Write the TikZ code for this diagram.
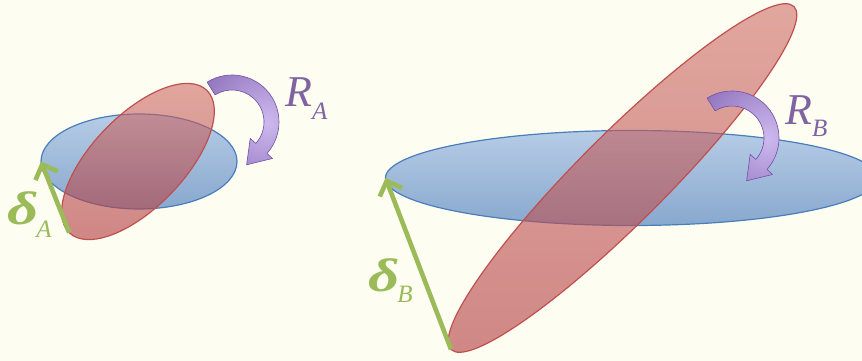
\documentclass[tikz,border=0pt]{standalone}
\usepackage{fontspec}
\usepackage{graphicx}
\newfontfamily\dfont{Liberation Serif}
\usetikzlibrary{arrows.meta,shapes.geometric,calc}
\definecolor{bgc}{RGB}{253,253,242}
\definecolor{blueline}{RGB}{74,126,187}
\definecolor{bluetop}{RGB}{182,204,230}
\definecolor{bluebot}{RGB}{136,168,206}
\definecolor{redline}{RGB}{192,80,77}
\definecolor{redtop}{RGB}{208,112,106}
\definecolor{redbot}{RGB}{178,58,62}
\definecolor{gr}{RGB}{155,187,89}
\definecolor{pu}{RGB}{128,100,162}
\definecolor{pudark}{RGB}{115,82,165}
\definecolor{pulight}{RGB}{205,185,238}
\tikzset{
  blueell/.style={ellipse, draw=blueline, line width=1.2pt, top color=bluetop, bottom color=bluebot, inner sep=0pt, outer sep=0pt},
  redell/.style={ellipse, draw=redline, line width=1.2pt, top color=redtop, bottom color=redbot, fill opacity=0.6, inner sep=0pt, outer sep=0pt},
  garrow/.style={draw=gr, line width=4.6pt, -{Straight Barb[length=12pt,width=24pt]}},
  curvarr/.style={insert path={
    ($(#1)+(122:47)$) arc[start angle=122,end angle=-42,radius=47]
    -- ($(#1)+(-42:54.5)$) -- ($(#1)+(-42:39.5)+(-132:22)$) -- ($(#1)+(-42:24.5)$)
    -- ($(#1)+(-42:32)$) arc[start angle=-42,end angle=122,radius=32] -- cycle}},
  plabel/.style={text=pu, inner sep=0pt, anchor=base west},
  glabel/.style={text=gr, inner sep=0pt, anchor=base west}
}
\newcommand{\subtext}[2]{\raisebox{-#1}{\fontsize{25}{25}\selectfont\dfont\itshape #2}}
\newcommand{\bigR}{\fontsize{44}{44}\selectfont\dfont\itshape R}
\newcommand{\bigdelta}{\scalebox{1.3}[1]{\fontsize{47}{47}\selectfont\dfont\bfseries\itshape δ}\kern-2pt}
\begin{document}
\begin{tikzpicture}[x=1pt,y=1pt]
\useasboundingbox (0,0) rectangle (862,361);
\fill[bgc] (0,0) rectangle (862,361);

% ---------- A ----------
\node[blueell, minimum width=196pt, minimum height=95pt] (bA) at (139,199.5) {};
\node[redell, minimum width=198pt, minimum height=92pt, rotate=46] (rA) at (138,199.5) {};
\draw[garrow] (rA.west) -- (bA.west);
\coordinate (cA) at (232,239);
\fill[black, opacity=0.12, xshift=1.5pt, yshift=-2pt] [curvarr=cA];
\begin{scope}
  \clip[curvarr=cA];
  \shade[inner color=pulight, outer color=pudark] ($(cA)+(35,0)$) circle (110);
\end{scope}
\draw[pudark, line width=0.6pt, line join=round] [curvarr=cA];
\node[plabel] (RA) at (285,254) {\bigR\subtext{13pt}{A}};
\node[glabel] (dA) at (7,136) {\bigdelta\subtext{13pt}{A}};

% ---------- B ----------
\node[blueell, minimum width=492pt, minimum height=95pt] (bB) at (631.5,183) {};
\node[redell, minimum width=485pt, minimum height=88pt, rotate=45] (rB) at (622.5,183) {};
\draw[garrow] (rB.west) -- (bB.west);
\coordinate (cB) at (732,223);
\fill[black, opacity=0.12, xshift=1.5pt, yshift=-2pt] [curvarr=cB];
\begin{scope}
  \clip[curvarr=cB];
  \shade[inner color=pulight, outer color=pudark] ($(cB)+(35,0)$) circle (110);
\end{scope}
\draw[pudark, line width=0.6pt, line join=round] [curvarr=cB];
\node[plabel] (RB) at (785,236) {\bigR\subtext{12pt}{B}};
\node[glabel] (dB) at (368,69) {\bigdelta\subtext{11pt}{B}};
\end{tikzpicture}
\end{document}
